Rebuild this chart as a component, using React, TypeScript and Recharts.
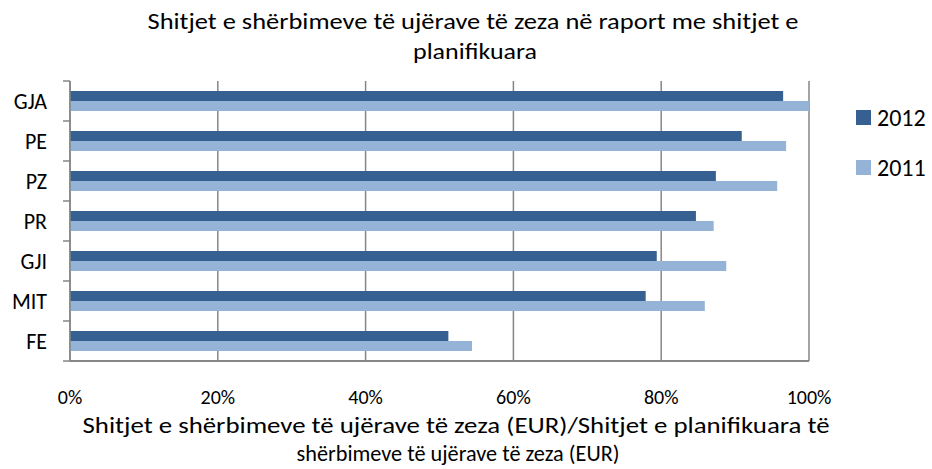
import { Bar, BarChart, CartesianGrid, XAxis, YAxis } from "recharts"

const categories = ["GJA", "PE", "PZ", "PR", "GJI", "MIT", "FE"]
const values2012 = [96.5, 90.9, 87.4, 84.7, 79.4, 77.9, 51.2]
const values2011 = [100, 96.9, 95.7, 87.1, 88.8, 85.9, 54.4]
const xTicks = [0, 20, 40, 60, 80, 100]

const series = [
    { key: "y2012", name: "2012", color: "#366092" },
    { key: "y2011", name: "2011", color: "#95B3D7" },
]

const data = categories.map((name, i) => ({
    name,
    y2012: values2012[i],
    y2011: values2011[i],
}))

const W = 932
const H = 469
const margin = { top: 81, right: 123, bottom: 78, left: 10 }
const plotH = H - margin.top - margin.bottom - 30
const step = plotH / categories.length
const font = "Carlito, Calibri, 'Open Sans', sans-serif"
const gray = "#868686"

function CategoryTick(props: any) {
    const { x, y, payload, index } = props
    const axisX = x + 8
    return (
        <g>
            <line x1={axisX - 7} x2={axisX} y1={y - step / 2} y2={y - step / 2} stroke={gray} strokeWidth={1.5} />
            {index === categories.length - 1 && (
                <line x1={axisX - 7} x2={axisX} y1={y + step / 2} y2={y + step / 2} stroke={gray} strokeWidth={1.5} />
            )}
            <text x={x - 15} y={y} dy="0.35em" textAnchor="end" fontSize={22} fill="#000" fontFamily={font}>
                {payload.value}
            </text>
        </g>
    )
}

export default function App() {
    return (
        <div style={{ position: "relative", width: W, height: H, background: "#fff" }}>
            <style>{`body{margin:0}`}</style>
            <BarChart
                width={W}
                height={H}
                data={data}
                layout="vertical"
                margin={margin}
                barCategoryGap="25%"
                barGap={0}
            >
                <CartesianGrid horizontal={false} stroke={gray} strokeWidth={1.5} />
                <XAxis
                    type="number"
                    domain={[0, 100]}
                    ticks={xTicks}
                    tickFormatter={(v) => `${v}%`}
                    tickLine={false}
                    axisLine={{ stroke: gray, strokeWidth: 2 }}
                    tick={{ fontSize: 20, fill: "#000", fontFamily: font }}
                    tickMargin={23}
                    interval={0}
                />
                <YAxis
                    type="category"
                    dataKey="name"
                    width={60}
                    tickLine={false}
                    axisLine={{ stroke: gray, strokeWidth: 1.5 }}
                    tick={<CategoryTick />}
                    interval={0}
                />
                {series.map((s) => (
                    <Bar key={s.key} dataKey={s.key} name={s.name} fill={s.color} isAnimationActive={false} />
                ))}
            </BarChart>
            <svg
                width={W}
                height={H}
                style={{ position: "absolute", left: 0, top: 0, pointerEvents: "none" }}
                fontFamily={font}
            >
                <text x={473} y={29} textAnchor="middle" fontSize={22} textLength={651} lengthAdjust="spacingAndGlyphs">
                    Shitjet e shërbimeve të ujërave të zeza në raport me shitjet e
                </text>
                <text x={475} y={59} textAnchor="middle" fontSize={22} textLength={124} lengthAdjust="spacingAndGlyphs">
                    planifikuara
                </text>
                <text x={456} y={433} textAnchor="middle" fontSize={22} textLength={747} lengthAdjust="spacingAndGlyphs">
                    Shitjet e shërbimeve të ujërave të zeza (EUR)/Shitjet e planifikuara të
                </text>
                <text x={458} y={461} textAnchor="middle" fontSize={22} textLength={323} lengthAdjust="spacingAndGlyphs">
                    shërbimeve të ujërave të zeza (EUR)
                </text>
                {series.map((s, i) => (
                    <g key={s.key}>
                        <rect x={856} y={110 + i * 50} width={15} height={15} fill={s.color} />
                        <text x={877} y={126 + i * 50} fontSize={24} fill="#000">
                            {s.name}
                        </text>
                    </g>
                ))}
            </svg>
        </div>
    )
}
